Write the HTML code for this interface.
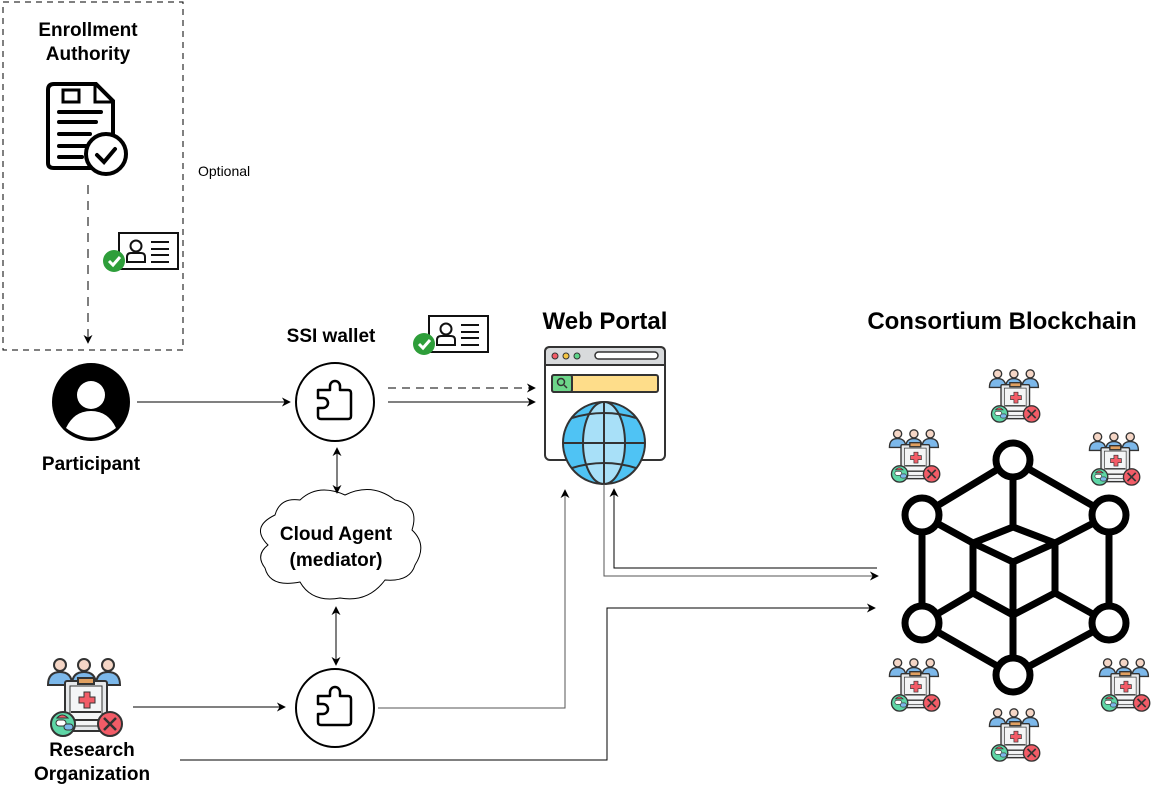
<!DOCTYPE html>
<html><head><meta charset="utf-8"><style>
html,body{margin:0;padding:0;background:#fff;}
svg{display:block;font-family:"Liberation Sans",Arial,sans-serif;}
</style></head><body>
<svg width="1157" height="785" viewBox="0 0 1157 785" xmlns="http://www.w3.org/2000/svg">
<defs>
<marker id="ah" viewBox="0 0 10 10" refX="9" refY="5" markerWidth="9" markerHeight="9" orient="auto-start-reverse" markerUnits="userSpaceOnUse"><path d="M0,0 L10,5 L0,10 L3,5 Z" fill="#000"/></marker>
<g id="org">
  <g stroke="#333" stroke-width="2">
    <path d="M8,33 Q8,20 20,20 Q32,20 32,33 Z" fill="#7cb8ea"/>
    <path d="M56,33 Q56,20 68,20 Q80,20 80,33 Z" fill="#7cb8ea"/>
    <path d="M32,33 Q32,20 44,20 Q56,20 56,33 Z" fill="#7cb8ea"/>
    <circle cx="20" cy="13" r="6" fill="#f5d6c6"/>
    <circle cx="44" cy="13" r="6" fill="#f5d6c6"/>
    <circle cx="68" cy="13" r="6" fill="#f5d6c6"/>
    <rect x="25" y="29" width="42" height="50" rx="2" fill="#e6e8ea"/>
    <rect x="30" y="34" width="32" height="40" fill="#f4f5f6" stroke-width="1"/>
    <rect x="38" y="26" width="16" height="6" fill="#e0a060"/>
    <line x1="31" y1="60" x2="61" y2="60"/><line x1="31" y1="68" x2="61" y2="68"/>
    <circle cx="23" cy="72" r="12" fill="#5ed6a6"/>
    <circle cx="70" cy="72" r="12" fill="#f25c67"/>
  </g>
  <path d="M44,40 h6 v5 h5 v6 h-5 v5 h-6 v-5 h-5 v-6 h5 Z" fill="#f25c67" stroke="#333" stroke-width="1"/>
  <path d="M64,66 L76,78 M76,66 L64,78" stroke="#333" stroke-width="2.5"/>
  <rect x="16" y="68" width="10" height="6" rx="3" fill="#fff" stroke="#333"/>
  <rect x="24" y="72" width="9" height="6" rx="3" fill="#7cb8ea" stroke="#333"/>
  <path d="M17,66 Q22,60 28,66 Z" fill="#f25c67" stroke="#333"/>
</g>
<g id="card">
  <rect x="0" y="0" width="59" height="36" fill="#fff" stroke="#111" stroke-width="2"/>
  <circle cx="17" cy="13" r="5.5" fill="none" stroke="#111" stroke-width="2"/>
  <path d="M8,29 V24 Q8,20 12,20 H22 Q26,20 26,24 V29 Z" fill="none" stroke="#111" stroke-width="2"/>
  <path d="M32,9 H50 M32,16 H50 M32,22 H50 M32,29 H50" stroke="#111" stroke-width="2"/>
</g>
<g id="check">
  <circle cx="0" cy="0" r="11" fill="#2e9e3a"/>
  <path d="M-5,0 L-1,4 L6,-4" stroke="#fff" stroke-width="3" fill="none"/>
</g>
<g id="puzzle">
  <path d="M-17,-12 H-5 V-16 A5,5 0 0 1 5,-16 V-12 H13 Q16,-12 16,-9 V14 Q16,17 13,17 H-14 Q-17,17 -17,14 V6 H-12 A5,5 0 0 0 -12,-4 H-17 Z" fill="none" stroke="#000" stroke-width="2.5" stroke-linejoin="round"/>
</g>
</defs>

<rect x="3" y="2" width="180" height="348" fill="none" stroke="#000" stroke-width="1" stroke-dasharray="6,5"/>
<text x="88" y="36" font-size="19" font-weight="bold" text-anchor="middle">Enrollment</text>
<text x="88" y="60" font-size="19" font-weight="bold" text-anchor="middle">Authority</text>
<path d="M54,84 H96 L113,101 V163 Q113,168 108,168 H54 Q48,168 48,163 V90 Q48,84 54,84 Z" fill="#fff" stroke="#000" stroke-width="4"/>
<path d="M95,85 V102 H112" fill="none" stroke="#000" stroke-width="3"/>
<rect x="63" y="90" width="16" height="12" fill="none" stroke="#000" stroke-width="3"/>
<path d="M59,112 H101 M59,122 H96 M59,134 H90 M59,146 H86 M59,157 H82" stroke="#000" stroke-width="4" stroke-linecap="round"/>
<circle cx="106" cy="154" r="20" fill="#fff" stroke="#000" stroke-width="4"/>
<path d="M97,155 L104,162 L115,149" fill="none" stroke="#000" stroke-width="4" stroke-linecap="round"/>
<text x="198" y="176" font-size="14">Optional</text>
<line x1="88" y1="185" x2="88" y2="343" stroke="#555" stroke-width="1.5" stroke-dasharray="9,7" marker-end="url(#ah)"/>
<use href="#card" x="119" y="233"/>
<use href="#check" x="114" y="261"/>

<circle cx="91" cy="402" r="39" fill="#000"/>
<circle cx="91" cy="395" r="14" fill="#fff"/>
<path d="M66,428 Q74,411 91,411 Q108,411 116,428 Q91,447 66,428 Z" fill="#fff"/>
<text x="91" y="470" font-size="19" font-weight="bold" text-anchor="middle">Participant</text>

<text x="331" y="342" font-size="19" font-weight="bold" text-anchor="middle">SSI wallet</text>
<circle cx="335" cy="402" r="39" fill="#fff" stroke="#000" stroke-width="2"/>
<use href="#puzzle" x="335" y="402"/>
<use href="#card" x="429" y="316"/>
<use href="#check" x="424" y="344"/>
<circle cx="335" cy="708" r="39" fill="#fff" stroke="#000" stroke-width="2"/>
<use href="#puzzle" x="335" y="708"/>

<path d="M275,515 Q280,497 300,500 Q318,483 345,495 Q372,482 395,500 Q420,505 412,530 Q428,545 415,565 Q410,582 385,580 Q368,603 340,598 Q312,603 300,582 Q270,588 265,568 Q255,555 268,545 Q250,527 275,515 Z" fill="#fff" stroke="#000" stroke-width="1"/>
<text x="336" y="540" font-size="19" font-weight="bold" text-anchor="middle">Cloud Agent</text>
<text x="336" y="566" font-size="19" font-weight="bold" text-anchor="middle">(mediator)</text>

<use href="#org" x="40" y="652"/>
<text x="92" y="756" font-size="19" font-weight="bold" text-anchor="middle">Research</text>
<text x="92" y="780" font-size="19" font-weight="bold" text-anchor="middle">Organization</text>

<text x="605" y="329" font-size="24" font-weight="bold" text-anchor="middle">Web Portal</text>
<rect x="545" y="347" width="120" height="113" rx="5" fill="#fff" stroke="#333" stroke-width="2"/>
<path d="M545,365 V352 Q545,347 550,347 H660 Q665,347 665,352 V365 Z" fill="#d8dadc" stroke="#333" stroke-width="2"/>
<circle cx="555" cy="356" r="3" fill="#f25c67" stroke="#333"/>
<circle cx="566" cy="356" r="3" fill="#f5c542" stroke="#333"/>
<circle cx="577" cy="356" r="3" fill="#5ed68a" stroke="#333"/>
<rect x="595" y="352" width="63" height="7" rx="3.5" fill="#fff" stroke="#333" stroke-width="1.5"/>
<rect x="552" y="375" width="106" height="17" rx="2" fill="#fedd8a" stroke="#333" stroke-width="2"/>
<rect x="552" y="375" width="20" height="17" rx="2" fill="#6dd68a" stroke="#333" stroke-width="2"/>
<circle cx="561" cy="382" r="3.5" fill="none" stroke="#333" stroke-width="1.5"/>
<line x1="564" y1="385" x2="567" y2="388" stroke="#333" stroke-width="1.5"/>
<circle cx="604" cy="443" r="41" fill="#4fc3f4" stroke="#333" stroke-width="2"/>
<ellipse cx="604" cy="443" rx="21" ry="41" fill="#a8e0f8" stroke="#333" stroke-width="2"/>
<line x1="604" y1="402" x2="604" y2="484" stroke="#333" stroke-width="2"/>
<line x1="563" y1="443" x2="645" y2="443" stroke="#333" stroke-width="2"/>
<path d="M572,418 Q604,408 636,418 M572,468 Q604,458 636,468" fill="none" stroke="#333" stroke-width="2"/>

<line x1="137" y1="402" x2="290" y2="402" stroke="#000" marker-end="url(#ah)"/>
<line x1="388" y1="388" x2="535" y2="388" stroke="#000" stroke-dasharray="8,6" marker-end="url(#ah)"/>
<line x1="388" y1="402" x2="535" y2="402" stroke="#000" marker-end="url(#ah)"/>
<line x1="337" y1="448" x2="337" y2="493" stroke="#000" marker-start="url(#ah)" marker-end="url(#ah)"/>
<line x1="336" y1="607" x2="336" y2="665" stroke="#000" marker-start="url(#ah)" marker-end="url(#ah)"/>
<line x1="133" y1="707" x2="285" y2="707" stroke="#000" marker-end="url(#ah)"/>
<polyline points="378,708 565,708 565,490" fill="none" stroke="#555" marker-end="url(#ah)"/>
<polyline points="604,484 604,576 878,576" fill="none" stroke="#555" marker-end="url(#ah)"/>
<polyline points="877,568 614,568 614,489" fill="none" stroke="#000" marker-end="url(#ah)"/>
<polyline points="180,760 607,760 607,608 875,608" fill="none" stroke="#000" marker-end="url(#ah)"/>

<text x="1002" y="329" font-size="24" font-weight="bold" text-anchor="middle">Consortium Blockchain</text>
<g stroke="#000" stroke-width="7" fill="none" stroke-linejoin="round">
  <path d="M1013,460 L922,515 V623 L1013,675 L1109,623 V515 Z"/>
  <path d="M1013,460 V527 L973,543 L1013,562 L1055,543 L1013,527"/>
  <path d="M973,543 V593 L1013,615 L1055,593 V543"/>
  <path d="M1013,562 V675"/>
  <path d="M922,515 L973,543 M1109,515 L1055,543 M922,623 L973,593 M1109,623 L1055,593"/>
</g>
<g fill="#fff" stroke="#000" stroke-width="7">
  <circle cx="1013" cy="460" r="17"/>
  <circle cx="922" cy="515" r="17"/>
  <circle cx="1109" cy="515" r="17"/>
  <circle cx="922" cy="623" r="17"/>
  <circle cx="1109" cy="623" r="17"/>
  <circle cx="1013" cy="675" r="17"/>
</g>
<use href="#org" transform="translate(984,365) scale(0.68)"/>
<use href="#org" transform="translate(884,425) scale(0.68)"/>
<use href="#org" transform="translate(1084,428) scale(0.68)"/>
<use href="#org" transform="translate(884,654) scale(0.68)"/>
<use href="#org" transform="translate(1094,654) scale(0.68)"/>
<use href="#org" transform="translate(984,704) scale(0.68)"/>
</svg>
</body></html>
